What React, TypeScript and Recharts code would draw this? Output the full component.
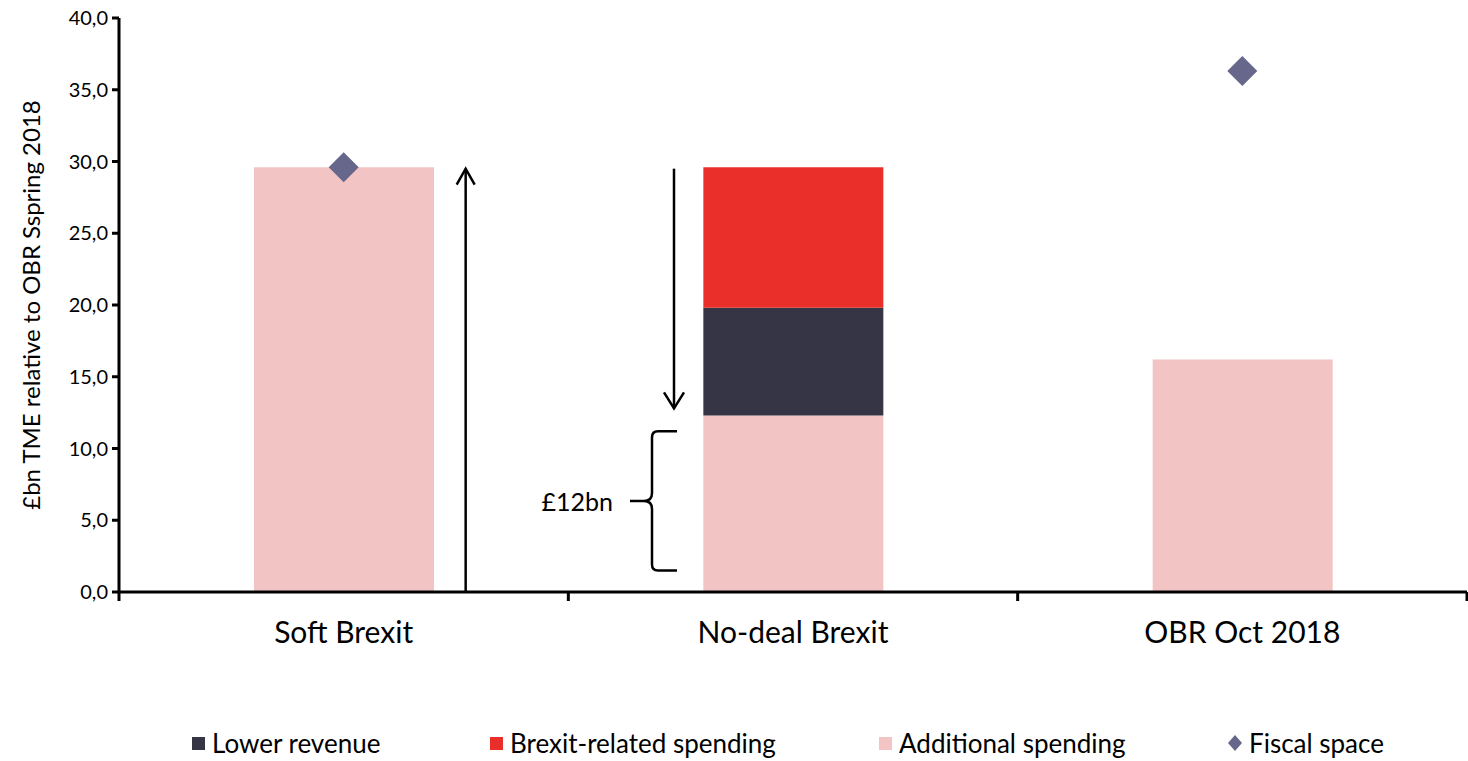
import React from 'react';
import {
  ComposedChart, Bar, Scatter, XAxis, YAxis, Legend, Customized,
} from 'recharts';

const categories = ['Soft Brexit', 'No-deal Brexit', 'OBR Oct 2018'];
const additionalSpending = [29.6, 12.3, 16.2];
const lowerRevenue = [0, 7.5, 0];
const brexitSpending = [0, 9.8, 0];
const fiscalSpace: (number | null)[] = [29.6, null, 36.3];
const yTicks = [0, 5, 10, 15, 20, 25, 30, 35, 40];

const legendItems = [
  { label: 'Lower revenue', color: '#363545', icon: 'square' },
  { label: 'Brexit-related spending', color: '#ea2f2b', icon: 'square' },
  { label: 'Additional spending', color: '#f2c4c3', icon: 'square' },
  { label: 'Fiscal space', color: '#66678a', icon: 'diamond' },
];

const data = categories.map((name, i) => ({
  name,
  additional: additionalSpending[i],
  lower: lowerRevenue[i],
  brexit: brexitSpending[i],
  fiscal: fiscalSpace[i],
}));

const W = 1468;
const H = 761;
const FONT = 'Lato, "Open Sans", sans-serif';
const M = { top: 18, right: 1, left: 0, bottom: 0 };
const Y_AXIS_W = 119;
const X_AXIS_H = 125;
const LEGEND_H = 44;
const Y_MAX = 40;

// plot geometry, used only for the annotation layer
const plotLeft = M.left + Y_AXIS_W;
const plotRight = W - M.right;
const plotTop = M.top;
const plotBottom = H - M.bottom - LEGEND_H - X_AXIS_H;
const band = (plotRight - plotLeft) / categories.length;
const yPx = (v: number) => plotTop + (1 - v / Y_MAX) * (plotBottom - plotTop);
const bandCenter = (i: number) => plotLeft + band * (i + 0.5);

const fmt = (v: number) => v.toFixed(1).replace('.', ',');

const Diamond = (props: any) => {
  const { cx, cy, payload } = props;
  if (payload == null || payload.fiscal == null || cx == null || cy == null) return null;
  const r = 15;
  return (
    <polygon
      points={`${cx},${cy - r} ${cx + r},${cy} ${cx},${cy + r} ${cx - r},${cy}`}
      fill="#66678a"
    />
  );
};

const Annotations = () => {
  const upX = bandCenter(0) + 122;
  const upTop = yPx(29.5);
  const downX = bandCenter(1) - 119;
  const downTop = yPx(29.5);
  const downEnd = yPx(12.8);
  const braceX = bandCenter(1) - 141;
  const braceTop = yPx(11.2);
  const braceBot = yPx(1.5);
  const braceMid = (braceTop + braceBot) / 2;
  const ticks = [0, 1, 2, 3].map((i) => plotLeft + band * i);
  return (
    <g>
      {ticks.map((x, i) => (
        <line key={i} x1={x} x2={x} y1={plotBottom} y2={plotBottom + 9} stroke="#000" strokeWidth={3} />
      ))}
      <line x1={upX} x2={upX} y1={plotBottom} y2={upTop} stroke="#000" strokeWidth={2.5} />
      <polyline points={`${upX - 9},${upTop + 16} ${upX},${upTop} ${upX + 9},${upTop + 16}`} fill="none" stroke="#000" strokeWidth={2.5} />
      <line x1={downX} x2={downX} y1={downTop} y2={downEnd} stroke="#000" strokeWidth={2.5} />
      <polyline points={`${downX - 10},${downEnd - 16} ${downX},${downEnd} ${downX + 10},${downEnd - 16}`} fill="none" stroke="#000" strokeWidth={2.5} />
      <path
        d={`M ${braceX + 25} ${braceTop} L ${braceX + 6} ${braceTop} Q ${braceX} ${braceTop} ${braceX} ${braceTop + 6}
            L ${braceX} ${braceMid - 8} Q ${braceX} ${braceMid} ${braceX - 8} ${braceMid} L ${braceX - 22} ${braceMid}
            M ${braceX - 8} ${braceMid} Q ${braceX} ${braceMid} ${braceX} ${braceMid + 8}
            L ${braceX} ${braceBot - 6} Q ${braceX} ${braceBot} ${braceX + 6} ${braceBot} L ${braceX + 25} ${braceBot}`}
        fill="none" stroke="#000" strokeWidth={2.5}
      />
      <text x={braceX - 39} y={braceMid} textAnchor="end" dominantBaseline="central" fontSize={25} fontFamily={FONT} fill="#000">
        £12bn
      </text>
      <text
        transform={`translate(30, ${(plotTop + plotBottom) / 2}) rotate(-90)`}
        textAnchor="middle" dominantBaseline="central" fontSize={24} fontFamily={FONT} fill="#000"
      >
        £bn TME relative to OBR Sspring 2018
      </text>
    </g>
  );
};

const legendLeft = [192, 490, 879, 1227];

const LegendContent = () => (
  <div style={{ position: 'relative', width: W, height: LEGEND_H, fontFamily: FONT, fontSize: 26, color: '#000' }}>
    {legendItems.map((it, i) => (
      <div key={it.label} style={{ position: 'absolute', left: legendLeft[i], top: 11, display: 'flex', alignItems: 'center', height: 30 }}>
        {it.icon === 'square' ? (
          <span style={{ display: 'inline-block', width: 13, height: 13, background: it.color, marginRight: 7 }} />
        ) : (
          <svg width={16} height={16} style={{ marginRight: 6 }}>
            <polygon points="8,0 15,8 8,16 1,8" fill={it.color} />
          </svg>
        )}
        <span>{it.label}</span>
      </div>
    ))}
  </div>
);

export default function App() {
  return (
    <div style={{ position: 'absolute', left: 0, top: 0, width: W, height: H, background: '#fff' }}>
      <ComposedChart width={W} height={H} data={data} margin={M}>
        <XAxis
          dataKey="name"
          height={X_AXIS_H}
          axisLine={{ stroke: '#000', strokeWidth: 3 }}
          tickLine={false}
          tick={{ fill: '#000', fontSize: 30, fontFamily: FONT }}
          tickMargin={24}
        />
        <YAxis
          width={Y_AXIS_W}
          domain={[0, Y_MAX]}
          ticks={yTicks}
          tickFormatter={fmt}
          axisLine={{ stroke: '#000', strokeWidth: 3 }}
          tickLine={{ stroke: '#000', strokeWidth: 3 }}
          tickSize={7}
          tickMargin={4}
          tick={{ fill: '#000', fontSize: 20, fontFamily: FONT }}
          interval={0}
        />
        <Bar dataKey="additional" stackId="a" fill="#f2c4c3" barSize={180} isAnimationActive={false} />
        <Bar dataKey="lower" stackId="a" fill="#363545" barSize={180} isAnimationActive={false} />
        <Bar dataKey="brexit" stackId="a" fill="#ea2f2b" barSize={180} isAnimationActive={false} />
        <Scatter dataKey="fiscal" shape={<Diamond />} isAnimationActive={false} />
        <Legend
          verticalAlign="bottom"
          height={LEGEND_H}
          content={() => <LegendContent />}
          wrapperStyle={{ left: 0, width: W }}
        />
        <Customized component={<Annotations />} />
      </ComposedChart>
    </div>
  );
}
